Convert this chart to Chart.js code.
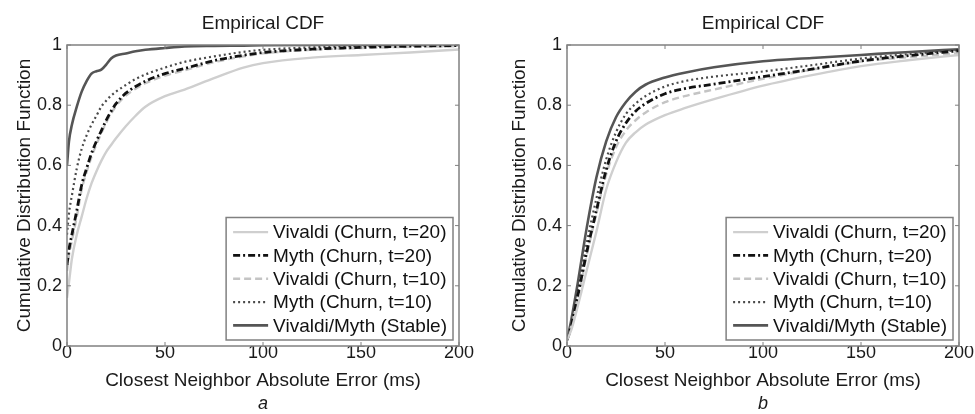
<!DOCTYPE html>
<html><head><meta charset="utf-8">
<script src="https://cdn.jsdelivr.net/npm/chart.js@4.4.0/dist/chart.umd.min.js"></script>
<style>
html,body{margin:0;padding:0;background:#fff;overflow:hidden;width:975px;height:414px;position:relative;}
#w1{position:absolute;left:0;top:0;width:487px;height:414px;}
#w2{position:absolute;left:487px;top:0;width:500px;height:414px;}
canvas{display:block;}
</style></head><body>
<div id="w1"><canvas id="c1" width="487" height="414" style="width:487px;height:414px"></canvas></div>
<div id="w2"><canvas id="c2" width="500" height="414" style="width:500px;height:414px"></canvas></div>
<script>
// ---------- data ----------
const seriesLabels = ['Vivaldi (Churn, t=20)', 'Myth (Churn, t=20)', 'Vivaldi (Churn, t=10)', 'Myth (Churn, t=10)', 'Vivaldi/Myth (Stable)'];
const panelTitles = ['Empirical CDF', 'Empirical CDF'];
const panelLetters = ['a', 'b'];
const xAxisLabel = 'Closest Neighbor Absolute Error (ms)';
const yAxisLabel = 'Cumulative Distribution Function';

// panel a
const xA = [0, 1, 2.5, 5, 7.5, 10, 12.5, 15, 17.5, 20, 22.5, 25, 30, 35, 40, 50, 60, 75, 90, 100, 125, 150, 175, 200];
const aVivaldi20 = [0.16, 0.21, 0.29, 0.37, 0.43, 0.49, 0.54, 0.58, 0.615, 0.645, 0.668, 0.69, 0.73, 0.765, 0.795, 0.83, 0.852, 0.89, 0.925, 0.94, 0.958, 0.967, 0.975, 0.985];
const aMyth20    = [0.27, 0.32, 0.37, 0.45, 0.535, 0.59, 0.64, 0.68, 0.715, 0.75, 0.78, 0.805, 0.84, 0.862, 0.88, 0.905, 0.922, 0.948, 0.966, 0.975, 0.986, 0.992, 0.996, 0.998];
const aVivaldi10 = [0.25, 0.30, 0.35, 0.43, 0.52, 0.578, 0.628, 0.67, 0.707, 0.742, 0.772, 0.797, 0.832, 0.855, 0.873, 0.898, 0.916, 0.943, 0.962, 0.972, 0.984, 0.99, 0.994, 0.996];
const aMyth10    = [0.37, 0.44, 0.50, 0.59, 0.655, 0.70, 0.735, 0.765, 0.795, 0.815, 0.832, 0.845, 0.867, 0.887, 0.902, 0.925, 0.944, 0.962, 0.977, 0.984, 0.992, 0.996, 0.998, 1.0];
const aStable    = [0.60, 0.68, 0.735, 0.795, 0.845, 0.88, 0.905, 0.913, 0.918, 0.935, 0.955, 0.965, 0.972, 0.979, 0.984, 0.99, 0.995, 0.997, 0.998, 0.999, 1, 1, 1, 1];

// panel b
const xB = [0, 2, 5, 10, 15, 20, 25, 30, 35, 40, 50, 60, 75, 100, 125, 150, 175, 200];
const bVivaldi20 = [0.02, 0.05, 0.12, 0.25, 0.38, 0.52, 0.61, 0.675, 0.71, 0.735, 0.767, 0.79, 0.82, 0.865, 0.9, 0.93, 0.95, 0.967];
const bMyth20    = [0.02, 0.06, 0.15, 0.31, 0.45, 0.585, 0.68, 0.74, 0.78, 0.805, 0.838, 0.855, 0.87, 0.895, 0.92, 0.947, 0.965, 0.981];
const bVivaldi10 = [0.02, 0.06, 0.14, 0.30, 0.44, 0.57, 0.66, 0.715, 0.75, 0.775, 0.81, 0.83, 0.852, 0.888, 0.918, 0.945, 0.96, 0.973];
const bMyth10    = [0.02, 0.07, 0.17, 0.34, 0.49, 0.62, 0.71, 0.77, 0.805, 0.83, 0.862, 0.88, 0.895, 0.912, 0.933, 0.955, 0.97, 0.983];
const bStable    = [0.02, 0.08, 0.19, 0.39, 0.56, 0.68, 0.76, 0.81, 0.845, 0.868, 0.892, 0.908, 0.926, 0.946, 0.957, 0.967, 0.977, 0.986];

const xTicks = [0, 50, 100, 150, 200];
const yTicks = [0, 0.2, 0.4, 0.6, 0.8, 1];

// ---------- styles ----------
const FONT = '"Liberation Sans", Arial, Helvetica, sans-serif';
const styles = [
  { color: '#cfcfcf', width: 2.4, dash: [] },
  { color: '#111111', width: 2.8, dash: [7, 3, 2, 3] },
  { color: '#c4c4c4', width: 2.4, dash: [7, 4] },
  { color: '#4a4a4a', width: 2.2, dash: [2, 3] },
  { color: '#555555', width: 2.6, dash: [] }
];

const framePlugin = {
  id: 'frame',
  afterDatasetsDraw(chart) {
    const { ctx, chartArea: a, scales: { x, y } } = chart;
    ctx.save();
    ctx.strokeStyle = '#808080';
    ctx.lineWidth = 1.5;
    ctx.strokeRect(a.left, a.top, a.right - a.left, a.bottom - a.top);
    ctx.lineWidth = 1;
    ctx.beginPath();
    x.ticks.forEach(t => {
      const px = x.getPixelForValue(t.value);
      ctx.moveTo(px, a.bottom); ctx.lineTo(px, a.bottom - 4);
      ctx.moveTo(px, a.top); ctx.lineTo(px, a.top + 4);
    });
    y.ticks.forEach(t => {
      const py = y.getPixelForValue(t.value);
      ctx.moveTo(a.left, py); ctx.lineTo(a.left + 4, py);
      ctx.moveTo(a.right, py); ctx.lineTo(a.right - 4, py);
    });
    ctx.stroke();
    ctx.restore();
  }
};

const boxLegend = {
  id: 'boxLegend',
  afterDraw(chart) {
    const { ctx, chartArea: a } = chart;
    const ds = chart.data.datasets;
    ctx.save();
    ctx.font = '19px ' + FONT;
    const tw = Math.max(...ds.map(d => ctx.measureText(d.label).width));
    const rowH = 23.3, padL = 7, lineLen = 35, gap = 5, padR = 6, padV = 3;
    const w = padL + lineLen + gap + tw + padR;
    const h = rowH * ds.length + 2 * padV;
    const bx = a.right - 6 - w, by = a.bottom - 6 - h;
    ctx.fillStyle = '#fff';
    ctx.fillRect(bx, by, w, h);
    ctx.strokeStyle = '#808080';
    ctx.lineWidth = 1.5;
    ctx.strokeRect(bx, by, w, h);
    ds.forEach((d, i) => {
      const cy = by + padV + rowH * (i + 0.5);
      ctx.strokeStyle = d.borderColor;
      ctx.lineWidth = d.borderWidth;
      ctx.setLineDash(d.borderDash || []);
      ctx.beginPath();
      ctx.moveTo(bx + padL, cy);
      ctx.lineTo(bx + padL + lineLen, cy);
      ctx.stroke();
      ctx.setLineDash([]);
      ctx.fillStyle = '#111';
      ctx.textBaseline = 'middle';
      ctx.textAlign = 'left';
      ctx.fillText(d.label, bx + padL + lineLen + gap, cy + 1);
    });
    ctx.restore();
  }
};

function build(canvasId, xs, ys, title, letter, yAxisW, yTitlePad) {
  const datasets = seriesLabels.map((lab, i) => ({
    label: lab,
    data: xs.map((x, j) => ({ x: x, y: ys[i][j] })),
    borderColor: styles[i].color,
    borderWidth: styles[i].width,
    borderDash: styles[i].dash,
    borderCapStyle: 'butt',
    pointRadius: 0,
    fill: false,
    showLine: true,
    cubicInterpolationMode: 'monotone'
  }));
  return new Chart(document.getElementById(canvasId), {
    type: 'scatter',
    data: { datasets },
    plugins: [framePlugin, boxLegend],
    options: {
      responsive: false,
      animation: false,
      devicePixelRatio: 1,
      layout: { padding: { left: 0, right: 28, top: 0, bottom: 0 } },
      plugins: {
        legend: { display: false },
        tooltip: { enabled: false },
        title: {
          display: true, text: title, fullSize: false, color: '#1a1a1a',
          font: { family: FONT, size: 19, weight: 'normal', lineHeight: '21px' },
          padding: { top: 13, bottom: 11 }
        },
        subtitle: {
          display: true, text: letter, position: 'bottom', fullSize: false, color: '#1a1a1a',
          font: { family: FONT, size: 18, style: 'italic', weight: 'normal', lineHeight: '20px' },
          padding: { top: 0, bottom: 0 }
        }
      },
      scales: {
        x: {
          type: 'linear', min: 0, max: 200,
          afterBuildTicks(s) { s.ticks = xTicks.map(v => ({ value: v })); },
          ticks: {
            color: '#1a1a1a', font: { family: FONT, size: 18, lineHeight: '12px' },
            padding: 1, maxRotation: 0, autoSkip: false,
            callback: v => String(v)
          },
          grid: { display: false, drawTicks: false },
          border: { display: false },
          title: {
            display: true, text: xAxisLabel, color: '#1a1a1a',
            font: { family: FONT, size: 19, lineHeight: '20px' },
            padding: { top: 0, bottom: 3 }
          },
          afterFit(s) { s.height = 48; }
        },
        y: {
          type: 'linear', min: 0, max: 1,
          afterBuildTicks(s) { s.ticks = yTicks.map(v => ({ value: v })); },
          ticks: {
            color: '#1a1a1a', font: { family: FONT, size: 18, lineHeight: '12px' },
            padding: 5,
            callback: v => String(Math.round(v * 10) / 10)
          },
          grid: { display: false, drawTicks: false },
          border: { display: false },
          title: {
            display: true, text: yAxisLabel, color: '#1a1a1a',
            font: { family: FONT, size: 19, lineHeight: '20px' },
            padding: { top: yTitlePad, bottom: 0 }
          },
          afterFit(s) { s.width = yAxisW; }
        }
      }
    }
  });
}

build('c1', xA, [aVivaldi20, aMyth20, aVivaldi10, aMyth10, aStable], panelTitles[0], panelLetters[0], 67, 15);
build('c2', xB, [bVivaldi20, bMyth20, bVivaldi10, bMyth10, bStable], panelTitles[1], panelLetters[1], 80, 23);
</script>
</body></html>
